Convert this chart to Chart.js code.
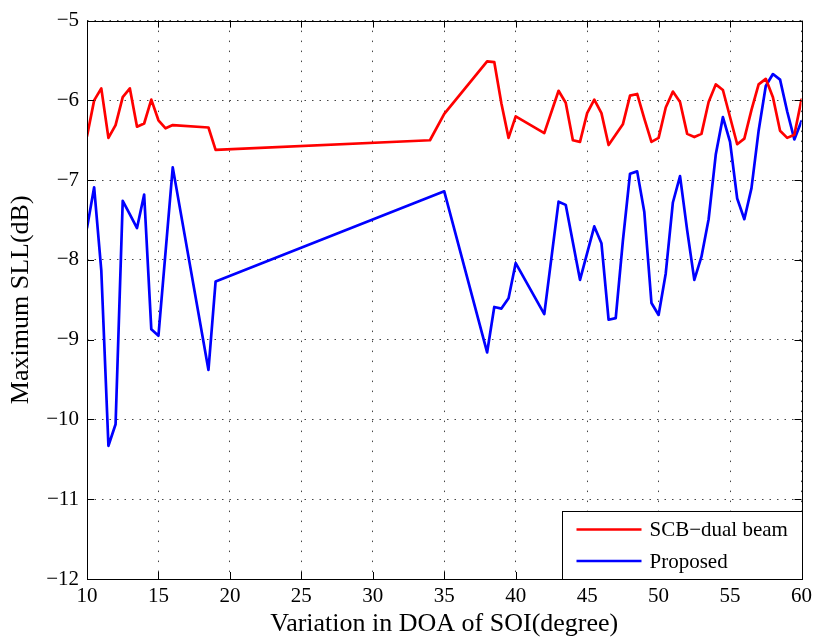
<!DOCTYPE html>
<html>
<head>
<meta charset="utf-8">
<title>Maximum SLL vs DOA</title>
<script src="https://cdn.jsdelivr.net/npm/chart.js@4"></script>
<style>
  html, body { margin: 0; padding: 0; background: #fff; }
  #wrap { width: 817px; height: 642px; position: relative; }
</style>
</head>
<body>
<div id="wrap"><canvas id="sllChart"></canvas></div>
<script>
// DOA (degree) and max side lobe level (dB) for each method
const doaScb = [10, 10.5, 11, 11.5, 12, 12.5, 13, 13.5, 14, 14.5, 15, 15.5, 16, 18.5, 19,
  34, 35, 38, 38.5, 39, 39.5, 40, 42, 43, 43.5, 44, 44.5, 45, 45.5, 46, 46.5, 47.5,
  48, 48.5, 49, 49.5, 50, 50.5, 51, 51.5, 52, 52.5, 53, 53.5, 54, 54.5, 55.5, 56,
  56.5, 57, 57.5, 58, 58.5, 59, 59.5, 60];
const sllScb = [-6.45, -6.0, -5.85, -6.47, -6.31, -5.96, -5.85, -6.33, -6.29, -5.99, -6.25, -6.35, -6.31, -6.34, -6.62,
  -6.5, -6.17, -5.51, -5.52, -6.04, -6.47, -6.2, -6.41, -5.88, -6.03, -6.5, -6.52, -6.16, -5.99, -6.16, -6.56, -6.3,
  -5.94, -5.92, -6.23, -6.52, -6.47, -6.09, -5.89, -6.02, -6.42, -6.46, -6.42, -6.02, -5.8, -5.87, -6.55, -6.48,
  -6.12, -5.8, -5.73, -5.96, -6.38, -6.47, -6.43, -5.99];

const doaProposed = [10, 10.5, 11, 11.5, 12, 12.5, 13, 13.5, 14, 14.5, 15, 16, 18.5, 19,
  35, 38, 38.5, 39, 39.5, 40, 42, 43, 43.5, 44.5, 45.5, 46, 46.5, 47, 47.5,
  48, 48.5, 49, 49.5, 50, 50.5, 51, 51.5, 52, 52.5, 53, 53.5, 54, 54.5, 55, 55.5,
  56, 56.5, 57, 57.5, 58, 58.5, 59, 59.5, 60];
const sllProposed = [-7.6, -7.09, -8.13, -10.33, -10.06, -7.26, -7.43, -7.6, -7.18, -8.87, -8.95, -6.84, -9.38, -8.27,
  -7.14, -9.16, -8.59, -8.61, -8.48, -8.04, -8.68, -7.27, -7.31, -8.25, -7.58, -7.79, -8.75, -8.73, -7.76,
  -6.92, -6.89, -7.4, -8.54, -8.69, -8.17, -7.28, -6.95, -7.63, -8.25, -7.96, -7.49, -6.68, -6.21, -6.52, -7.23,
  -7.49, -7.1, -6.38, -5.82, -5.67, -5.74, -6.14, -6.49, -6.26];

const xTicks = [10, 15, 20, 25, 30, 35, 40, 45, 50, 55, 60];
const yTicks = [-12, -11, -10, -9, -8, -7, -6, -5];

const seriesNames = ['SCB\u2212dual beam', 'Proposed'];

const FONT = "'Liberation Serif', 'Times New Roman', serif";

const toPoints = (xs, ys) => xs.map((v, i) => ({ x: v, y: ys[i] }));
const minus = v => String(v).replace('-', '\u2212');

// box, inward tick marks and legend in the lower right corner
const frameAndLegend = {
  id: 'frameAndLegend',
  afterDraw(chart) {
    const { ctx, chartArea: a, scales: { x, y } } = chart;
    ctx.save();
    ctx.strokeStyle = '#000';
    ctx.lineWidth = 1;
    ctx.beginPath();
    xTicks.forEach(v => {
      const px = Math.round(x.getPixelForValue(v)) + 0.5;
      ctx.moveTo(px, a.bottom); ctx.lineTo(px, a.bottom - 7);
      ctx.moveTo(px, a.top); ctx.lineTo(px, a.top + 7);
    });
    yTicks.forEach(v => {
      const py = Math.round(y.getPixelForValue(v)) + 0.5;
      ctx.moveTo(a.left, py); ctx.lineTo(a.left + 7, py);
      ctx.moveTo(a.right, py); ctx.lineTo(a.right - 7, py);
    });
    ctx.stroke();
    ctx.strokeRect(Math.round(a.left) + 0.5, Math.round(a.top) + 0.5,
      Math.round(a.right - a.left), Math.round(a.bottom - a.top));

    // legend
    const w = 240, h = 68;
    const bx = Math.round(a.right) - w + 0.5, by = Math.round(a.bottom) - h + 0.5;
    ctx.fillStyle = '#fff';
    ctx.fillRect(bx, by, w, h);
    ctx.strokeRect(bx, by, w, h);
    ctx.font = '21px ' + FONT;
    ctx.textBaseline = 'middle';
    chart.data.datasets.forEach((ds, i) => {
      const ly = by + 18 + i * 31.5;
      ctx.strokeStyle = ds.borderColor;
      ctx.lineWidth = 2.5;
      ctx.beginPath();
      ctx.moveTo(bx + 14, ly); ctx.lineTo(bx + 79, ly);
      ctx.stroke();
      ctx.fillStyle = '#000';
      ctx.fillText(ds.label, bx + 87, ly + 1);
    });
    ctx.restore();
  }
};

new Chart(document.getElementById('sllChart'), {
  type: 'line',
  data: {
    datasets: [
      { label: seriesNames[0], data: toPoints(doaScb, sllScb), borderColor: '#ff0000', borderWidth: 2.7 },
      { label: seriesNames[1], data: toPoints(doaProposed, sllProposed), borderColor: '#0000ff', borderWidth: 2.7 }
    ]
  },
  options: {
    responsive: true,
    maintainAspectRatio: false,
    animation: false,
    layout: { padding: { top: 14, right: 15, left: 0, bottom: 0 } },
    elements: { point: { radius: 0 }, line: { tension: 0, borderCapStyle: 'round', borderJoinStyle: 'round' } },
    plugins: { legend: { display: false }, tooltip: { enabled: false } },
    scales: {
      x: {
        type: 'linear',
        min: 10, max: 60,
        afterFit: s => { s.height = 63; },
        afterBuildTicks: s => { s.ticks = xTicks.map(v => ({ value: v })); },
        border: { display: false, dash: [1.5, 8.5] },
        grid: { color: '#444', lineWidth: 1, drawTicks: false },
        ticks: { color: '#000', padding: 5, maxRotation: 0, font: { family: FONT, size: 21 } },
        title: { display: true, text: 'Variation in DOA of SOI(degree)', color: '#000',
          font: { family: FONT, size: 26 }, padding: { top: 0, bottom: 2 } }
      },
      y: {
        min: -12, max: -5,
        afterFit: s => { s.width = 87; },
        afterBuildTicks: s => { s.ticks = yTicks.map(v => ({ value: v })); },
        border: { display: false, dash: [1.5, 6] },
        grid: { color: '#444', lineWidth: 1, drawTicks: false },
        ticks: { color: '#000', padding: 8, callback: v => minus(v), font: { family: FONT, size: 21 } },
        title: { display: true, text: 'Maximum SLL(dB)', color: '#000',
          font: { family: FONT, size: 26 }, padding: { top: 6, bottom: 0 } }
      }
    }
  },
  plugins: [frameAndLegend]
});
</script>
</body>
</html>
